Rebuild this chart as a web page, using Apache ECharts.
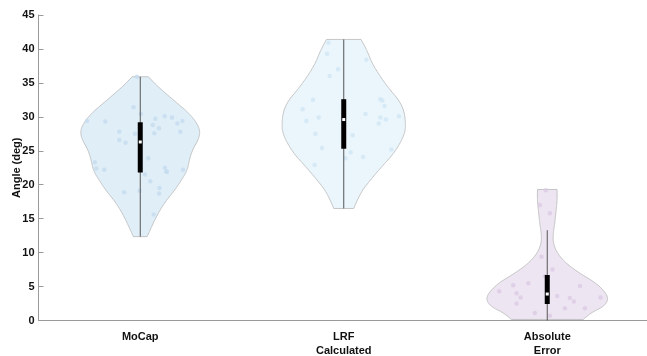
<!DOCTYPE html>
<html>
<head>
<meta charset="utf-8">
<script src="https://cdn.jsdelivr.net/npm/echarts@6/dist/echarts.min.js"></script>
<style>html,body{margin:0;padding:0;background:#fff;}#c{width:647px;height:356px;}</style>
</head>
<body>
<div id="c"></div>
<script>
// ---- data ----
const categories = ['MoCap', 'LRF\nCalculated', 'Absolute\nError'];
const yTicks = [0, 5, 10, 15, 20, 25, 30, 35, 40, 45];

// violin outlines: levels (deg) and half-widths (in category units)
const mocapLevels = [35.9, 34.4, 32.0, 30.5, 29.0, 27.8, 26.6, 25.1, 23.6, 22.1, 20.6, 19.1, 17.3, 15.3, 13.3, 12.35];
const mocapHalfWidth = [0.040, 0.088, 0.182, 0.241, 0.280, 0.295, 0.285, 0.256, 0.241, 0.231, 0.201, 0.167, 0.118, 0.079, 0.048, 0.034];
const lrfLevels = [41.4, 39.8, 37.9, 35.9, 33.9, 32.5, 31.0, 29.5, 28.0, 26.6, 24.6, 22.7, 20.7, 18.7, 16.5];
const lrfHalfWidth = [0.085, 0.114, 0.139, 0.180, 0.229, 0.270, 0.295, 0.303, 0.303, 0.286, 0.246, 0.188, 0.131, 0.079, 0.049];
const errLevels = [19.3, 17.7, 15.8, 14.3, 12.8, 11.4, 9.9, 8.4, 6.95, 5.5, 4.0, 3.0, 2.0, 1.06, 0.15];
const errHalfWidth = [0.048, 0.049, 0.042, 0.037, 0.029, 0.029, 0.049, 0.093, 0.160, 0.241, 0.290, 0.300, 0.275, 0.209, 0.177];

// raw points (jitter offset from category centre, value)
const mocapJitter = [-0.033, 0.003, -0.262, -0.172, 0.074, 0.120, 0.156, 0.207, 0.182, 0.062, 0.092, -0.103, 0.197, -0.026, 0.069, -0.103, -0.072, 0.039, -0.223, -0.216, -0.177, 0.121, 0.128, 0.131, 0.210, 0.023, 0.049, 0.095, 0.093, -0.079, -0.003, 0.066, -0.016];
const mocapValues = [31.4, 30.4, 29.4, 29.3, 29.7, 30.1, 29.9, 29.4, 29.0, 28.8, 28.3, 27.8, 27.8, 27.5, 27.6, 26.6, 26.2, 23.9, 23.3, 22.4, 22.2, 22.5, 21.9, 21.9, 22.2, 21.5, 20.5, 19.5, 18.7, 18.9, 19.1, 15.6, 35.9];
const lrfJitter = [-0.082, -0.028, -0.069, 0.111, -0.151, -0.202, -0.184, -0.123, -0.139, -0.107, -0.143, 0.107, 0.180, 0.190, 0.200, 0.180, 0.207, 0.172, 0.271, 0.044, 0.034, 0.095, 0.008, 0.234, -0.075];
const lrfValues = [39.3, 37.0, 36.0, 38.4, 32.5, 31.1, 29.4, 29.9, 27.5, 25.4, 22.9, 30.4, 32.6, 32.4, 31.6, 29.9, 29.6, 29.0, 30.1, 27.3, 24.8, 24.1, 23.9, 25.2, 40.9];
const errJitter = [-0.007, -0.036, 0.013, -0.028, 0.026, -0.011, -0.093, -0.167, -0.236, -0.151, -0.131, 0.111, 0.131, 0.049, 0.161, 0.185, 0.262, -0.061, 0.087, -0.151, 0.013];
const errValues = [19.2, 17.0, 15.8, 9.4, 7.5, 6.5, 5.5, 5.2, 4.3, 4.0, 3.4, 3.3, 2.8, 3.6, 5.1, 1.8, 3.4, 1.1, 1.8, 2.5, 0.7];

// box statistics
const boxQ1 = [21.8, 25.3, 2.43];
const boxMedian = [26.3, 29.6, 3.9];
const boxQ3 = [29.2, 32.6, 6.7];
const whiskerLow = [12.35, 16.5, 0];
const whiskerHigh = [35.9, 41.4, 13.3];

// ---- styles ----
const fillColors = ['#e0eef8', '#ebf6fc', '#ede5f1'];
const dotColors = ['#c4dcef', '#cfe6f4', '#dccbe5'];
const levelSets = [mocapLevels, lrfLevels, errLevels];
const widthSets = [mocapHalfWidth, lrfHalfWidth, errHalfWidth];

function smoothSide(pts) {
  // quadratic smoothing through midpoints (rendering only)
  const out = [pts[0]];
  if (pts.length < 3) return pts.slice();
  const mid = (a, b) => [(a[0] + b[0]) / 2, (a[1] + b[1]) / 2];
  let start = mid(pts[0], pts[1]);
  out.push(start);
  for (let i = 1; i < pts.length - 1; i++) {
    const c = pts[i];
    const end = (i === pts.length - 2) ? pts[i + 1] : mid(pts[i], pts[i + 1]);
    for (let s = 1; s <= 10; s++) {
      const t = s / 10;
      const x = (1 - t) * (1 - t) * start[0] + 2 * (1 - t) * t * c[0] + t * t * end[0];
      const y = (1 - t) * (1 - t) * start[1] + 2 * (1 - t) * t * c[1] + t * t * end[1];
      out.push([x, y]);
    }
    start = end;
  }
  return out;
}

function renderViolin(params, api) {
  const k = api.value(0);
  const lv = levelSets[k], hw = widthSets[k];
  const right = lv.map((v, i) => api.coord([k + hw[i], v]));
  const left = lv.map((v, i) => api.coord([k - hw[i], v]));
  const r = smoothSide(right);
  const l = smoothSide(left).reverse();
  return {
    type: 'polygon',
    shape: { points: r.concat(l) },
    style: { fill: fillColors[k], stroke: '#b9b9b9', lineWidth: 0.8 }
  };
}

function renderBox(params, api) {
  const k = api.value(0);
  const wTop = api.coord([k, whiskerHigh[k]]);
  const wBot = api.coord([k, whiskerLow[k]]);
  const q3 = api.coord([k, boxQ3[k]]);
  const q1 = api.coord([k, boxQ1[k]]);
  const md = api.coord([k, boxMedian[k]]);
  return {
    type: 'group',
    children: [
      { type: 'line', shape: { x1: wTop[0], y1: wTop[1], x2: wBot[0], y2: wBot[1] }, style: { stroke: '#555', lineWidth: 1 } },
      { type: 'rect', shape: { x: q3[0] - 2.5, y: q3[1], width: 5, height: q1[1] - q3[1] }, style: { fill: '#000' } },
      { type: 'rect', shape: { x: md[0] - 1.5, y: md[1] - 1.5, width: 3, height: 3 }, style: { fill: '#fff' } }
    ]
  };
}

const scatterSeries = [[mocapJitter, mocapValues], [lrfJitter, lrfValues], [errJitter, errValues]].map((g, k) => ({
  type: 'scatter',
  xAxisIndex: 1,
  symbolSize: 4.5,
  itemStyle: { color: dotColors[k] },
  z: 3,
  silent: true,
  data: g[1].map((v, i) => [k + g[0][i], v])
}));

const chart = echarts.init(document.getElementById('c'), null, { renderer: 'canvas' });
chart.setOption({
  animation: false,
  backgroundColor: '#fff',
  grid: { left: 38.5, top: 15, width: 610.5, height: 305.5, containLabel: false, outerBoundsMode: 'none' },
  xAxis: [
    {
      type: 'category',
      data: categories,
      boundaryGap: true,
      axisLine: { lineStyle: { color: '#9a9a9a', width: 1 } },
      axisTick: { alignWithLabel: true, inside: true, length: 5, lineStyle: { color: '#9a9a9a' } },
      axisLabel: { color: '#111', fontFamily: 'Liberation Sans, Arial, sans-serif', fontWeight: 'bold', fontSize: 11, lineHeight: 13.5, margin: 10 },
      splitLine: { show: false }
    },
    { type: 'value', min: -0.5, max: 2.5, show: false }
  ],
  yAxis: {
    type: 'value',
    min: yTicks[0],
    max: yTicks[yTicks.length - 1],
    interval: 5,
    name: 'Angle (deg)',
    nameLocation: 'middle',
    nameGap: 16,
    nameMoveOverlap: false,
    nameTextStyle: { color: '#111', fontFamily: 'Liberation Sans, Arial, sans-serif', fontWeight: 'bold', fontSize: 11 },
    axisLine: { show: true, onZero: false, lineStyle: { color: '#9a9a9a', width: 1 } },
    axisTick: { show: true, inside: true, length: 5, lineStyle: { color: '#9a9a9a' } },
    axisLabel: { color: '#111', fontFamily: 'Liberation Sans, Arial, sans-serif', fontWeight: 'bold', fontSize: 11, margin: 4 },
    splitLine: { show: false }
  },
  series: [
    { type: 'custom', xAxisIndex: 1, renderItem: renderViolin, data: [[0], [1], [2]], z: 2, silent: true },
    ...scatterSeries,
    { type: 'custom', xAxisIndex: 1, renderItem: renderBox, data: [[0], [1], [2]], z: 4, silent: true }
  ]
});
</script>
</body>
</html>
